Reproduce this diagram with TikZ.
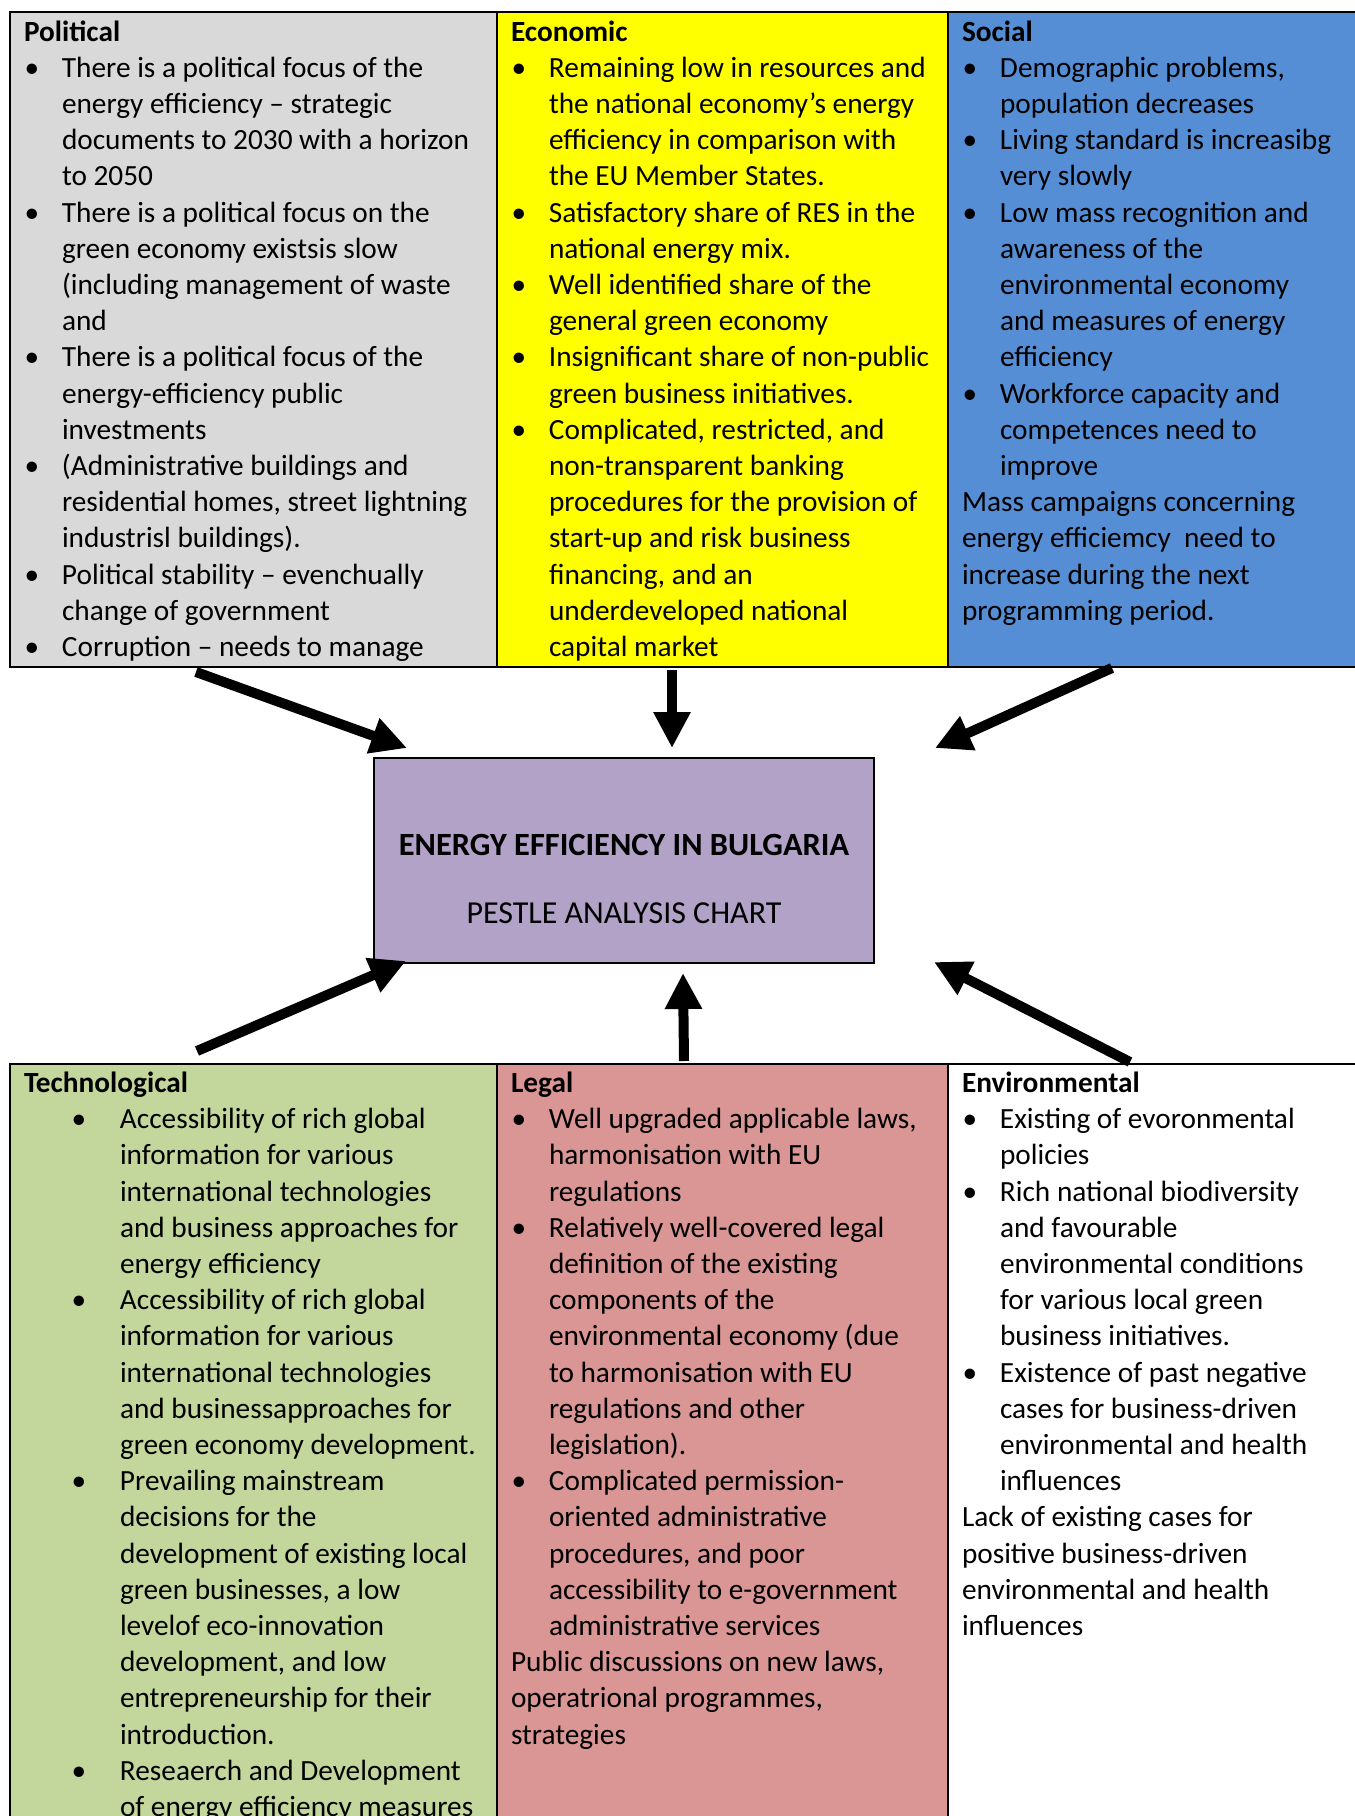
\documentclass[tikz,border=0pt]{standalone}
\usepackage{fontspec}
\setmainfont{Carlito}
\usetikzlibrary{arrows.meta}
\definecolor{polgray}{HTML}{D9D9D9}
\definecolor{ecoyellow}{HTML}{FFFF00}
\definecolor{socblue}{HTML}{558ED5}
\definecolor{tecgreen}{HTML}{C3D69B}
\definecolor{legred}{HTML}{D99694}
\definecolor{boxpurple}{HTML}{B3A2C7}
\newcommand\PHead[1]{\hbox{\bfseries #1}}
\newcommand\PBul[1]{\hbox{\rlap{\hbox to 16pt{\hss\textbullet\hss}}\kern38pt #1}}
\newcommand\PCon[1]{\hbox{\kern38pt #1}}
\newcommand\PPlain[1]{\hbox{#1}}
\newcommand\TBul[1]{\hbox{\rlap{\hbox to 110pt{\hss\textbullet\hss}}\kern96pt #1}}
\newcommand\TCon[1]{\hbox{\kern96pt #1}}
\begin{document}
\begin{tikzpicture}[x=1pt,y=-1pt,
  font=\fontsize{29.3}{36.2}\selectfont,
  cell/.style={draw=black, line width=2.2pt, inner sep=0pt, outer sep=0pt, anchor=north west},
  coltext/.style={anchor=base west, inner sep=0pt, outer sep=0pt},
  bigarrow/.style={line width=10pt, -{Triangle[length=36pt,width=35pt]}}]
\useasboundingbox (0,0) rectangle (1355,1816);
\clip (0,0) rectangle (1355,1816);
% top table
\node[cell, fill=polgray, minimum width=487pt, minimum height=655pt] (pol) at (10,12) {};
\node[cell, fill=ecoyellow, minimum width=451pt, minimum height=655pt] (eco) at (497,12) {};
\node[cell, fill=socblue, minimum width=420pt, minimum height=655pt] (soc) at (948,12) {};
% bottom table
\node[cell, fill=tecgreen, minimum width=487pt, minimum height=780pt] (tec) at (10,1064) {};
\node[cell, fill=legred, minimum width=451pt, minimum height=780pt] (leg) at (497,1064) {};
\node[cell, fill=white, minimum width=420pt, minimum height=780pt] (env) at (948,1064) {};
% centre box
\node[cell, line width=2pt, fill=boxpurple, minimum width=500pt, minimum height=205pt] (box) at (374,758) {};
\node[anchor=base, inner sep=0pt, font={\fontsize{32.4}{38}\selectfont\bfseries}] (title) at (624,855) {ENERGY EFFICIENCY IN BULGARIA};
\node[anchor=base, inner sep=0pt, font={\fontsize{32}{38}\selectfont}] (subtitle) at (624,923) {PESTLE ANALYSIS CHART};
% texts
\node[coltext] (poltext) at (24,41) {\vtop{%
\PHead{Political}
\PBul{There is a political focus of the}
\PCon{energy efficiency – strategic}
\PCon{documents to 2030 with a horizon}
\PCon{to 2050}
\PBul{There is a political focus on the}
\PCon{green economy existsis slow}
\PCon{(including management of waste}
\PCon{and}
\PBul{There is a political focus of the}
\PCon{energy-efficiency public}
\PCon{investments}
\PBul{(Administrative buildings and}
\PCon{residential homes, street lightning}
\PCon{industrisl buildings).}
\PBul{Political stability – evenchually}
\PCon{change of government}
\PBul{Corruption – needs to manage}}};
\node[coltext] (ecotext) at (511,41) {\vtop{%
\PHead{Economic}
\PBul{Remaining low in resources and}
\PCon{the national economy’s energy}
\PCon{efficiency in comparison with}
\PCon{the EU Member States.}
\PBul{Satisfactory share of RES in the}
\PCon{national energy mix.}
\PBul{Well identified share of the}
\PCon{general green economy}
\PBul{Insignificant share of non-public}
\PCon{green business initiatives.}
\PBul{Complicated, restricted, and}
\PCon{non-transparent banking}
\PCon{procedures for the provision of}
\PCon{start-up and risk business}
\PCon{financing, and an}
\PCon{underdeveloped national}
\PCon{capital market}}};
\node[coltext] (soctext) at (962,41) {\vtop{%
\PHead{Social}
\PBul{Demographic problems,}
\PCon{population decreases}
\PBul{Living standard is increasibg}
\PCon{very slowly}
\PBul{Low mass recognition and}
\PCon{awareness of the}
\PCon{environmental economy}
\PCon{and measures of energy}
\PCon{efficiency}
\PBul{Workforce capacity and}
\PCon{competences need to}
\PCon{improve}
\PPlain{Mass campaigns concerning}
\PPlain{energy efficiemcy~ need to}
\PPlain{increase during the next}
\PPlain{programming period.}}};
\node[coltext] (tectext) at (24,1092.5) {\vtop{%
\PHead{Technological}
\TBul{Accessibility of rich global}
\TCon{information for various}
\TCon{international technologies}
\TCon{and business approaches for}
\TCon{energy efficiency}
\TBul{Accessibility of rich global}
\TCon{information for various}
\TCon{international technologies}
\TCon{and businessapproaches for}
\TCon{green economy development.}
\TBul{Prevailing mainstream}
\TCon{decisions for the}
\TCon{development of existing local}
\TCon{green businesses, a low}
\TCon{levelof eco-innovation}
\TCon{development, and low}
\TCon{entrepreneurship for their}
\TCon{introduction.}
\TBul{Reseaerch and Development}
\TCon{of energy efficiency measures}}};
\node[coltext] (legtext) at (511,1092.5) {\vtop{%
\PHead{Legal}
\PBul{Well upgraded applicable laws,}
\PCon{harmonisation with EU}
\PCon{regulations}
\PBul{Relatively well-covered legal}
\PCon{definition of the existing}
\PCon{components of the}
\PCon{environmental economy (due}
\PCon{to harmonisation with EU}
\PCon{regulations and other}
\PCon{legislation).}
\PBul{Complicated permission-}
\PCon{oriented administrative}
\PCon{procedures, and poor}
\PCon{accessibility to e-government}
\PCon{administrative services}
\PPlain{Public discussions on new laws,}
\PPlain{operatrional programmes,}
\PPlain{strategies}}};
\node[coltext] (envtext) at (962,1092.5) {\vtop{%
\PHead{Environmental}
\PBul{Existing of evoronmental}
\PCon{policies}
\PBul{Rich national biodiversity}
\PCon{and favourable}
\PCon{environmental conditions}
\PCon{for various local green}
\PCon{business initiatives.}
\PBul{Existence of past negative}
\PCon{cases for business-driven}
\PCon{environmental and health}
\PCon{influences}
\PPlain{Lack of existing cases for}
\PPlain{positive business-driven}
\PPlain{environmental and health}
\PPlain{influences}}};
% arrow end points
\coordinate (a1s) at (196,672);   \coordinate (a1e) at (407,748);
\coordinate (a2s) at (672,670);   \coordinate (a2e) at (672,748);
\coordinate (a3s) at (1112,668);  \coordinate (a3e) at (935,748);
\coordinate (a4s) at (197,1051);  \coordinate (a4e) at (406,961);
\coordinate (a5s) at (684,1061);  \coordinate (a5e) at (683,973);
\coordinate (a6s) at (1130,1062); \coordinate (a6e) at (934,962);
\draw[bigarrow] (a1s) -- (a1e);
\draw[bigarrow] (a2s) -- (a2e);
\draw[bigarrow] (a3s) -- (a3e);
\draw[bigarrow] (a4s) -- (a4e);
\draw[bigarrow] (a5s) -- (a5e);
\draw[bigarrow] (a6s) -- (a6e);
\end{tikzpicture}
\end{document}
